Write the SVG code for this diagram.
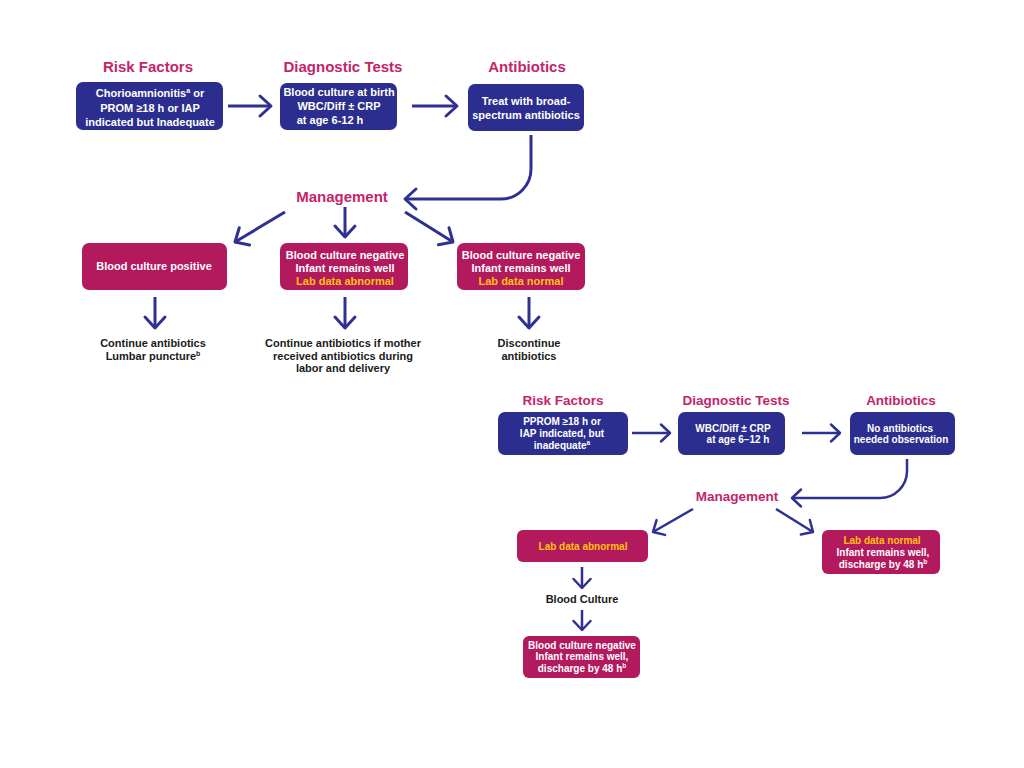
<svg xmlns="http://www.w3.org/2000/svg" width="1024" height="768" viewBox="0 0 1024 768">
<defs>
<style>
.title{font-family:"Liberation Sans",Arial,sans-serif;font-weight:bold;fill:#c4246c;text-anchor:middle}
.t1{font-size:15px}
.t2{font-size:13.5px}
.bt{font-family:"Liberation Sans",Arial,sans-serif;font-weight:bold;fill:#ffffff;text-anchor:middle;font-size:11px}
.bs{font-size:10px}
.yl{fill:#ffc20e}
.pt{font-family:"Liberation Sans",Arial,sans-serif;font-weight:bold;fill:#1a1a1a;text-anchor:middle;font-size:11px}
.blue{fill:#2b2e8e}
.mag{fill:#b3195d}
.cn{fill:none;stroke:#2e3192;stroke-width:3;stroke-linecap:butt}
.cs{fill:none;stroke:#2e3192;stroke-width:2.5}
</style>
<marker id="ah" markerUnits="userSpaceOnUse" markerWidth="30" markerHeight="30" viewBox="-15 -15 30 30" refX="0" refY="0" orient="auto" overflow="visible">
<path d="M-11,-10 L0,0 L-11,10" fill="none" stroke="#2e3192" stroke-width="3" stroke-linecap="round" stroke-linejoin="round"/>
</marker>
<marker id="ahs" markerUnits="userSpaceOnUse" markerWidth="30" markerHeight="30" viewBox="-15 -15 30 30" refX="0" refY="0" orient="auto" overflow="visible">
<path d="M-9,-8.5 L0,0 L-9,8.5" fill="none" stroke="#2e3192" stroke-width="2.5" stroke-linecap="round" stroke-linejoin="round"/>
</marker>
</defs>
<rect width="1024" height="768" fill="#ffffff"/>

<g id="titles">
<text class="title t1" x="148" y="72">Risk Factors</text>
<text class="title t1" x="343" y="72">Diagnostic Tests</text>
<text class="title t1" x="527" y="72">Antibiotics</text>
<text class="title t1" x="342" y="202">Management</text>
<text class="title t2" x="563" y="405">Risk Factors</text>
<text class="title t2" x="736" y="405">Diagnostic Tests</text>
<text class="title t2" x="901" y="405">Antibiotics</text>
<text class="title t2" x="737" y="501">Management</text>
</g>

<g id="connectors">
<line class="cn" x1="228" y1="106" x2="271" y2="106" marker-end="url(#ah)"/>
<line class="cn" x1="412" y1="106" x2="457" y2="106" marker-end="url(#ah)"/>
<path class="cn" d="M531,135 V169 A30,30 0 0 1 501,199 H405" marker-end="url(#ah)"/>
<line class="cn" x1="285" y1="212" x2="235" y2="242" marker-end="url(#ah)"/>
<line class="cn" x1="345" y1="207" x2="345" y2="237" marker-end="url(#ah)"/>
<line class="cn" x1="405" y1="212" x2="453" y2="242" marker-end="url(#ah)"/>
<line class="cn" x1="155" y1="297" x2="155" y2="328" marker-end="url(#ah)"/>
<line class="cn" x1="345" y1="297" x2="345" y2="328" marker-end="url(#ah)"/>
<line class="cn" x1="529" y1="297" x2="529" y2="328" marker-end="url(#ah)"/>
<line class="cs" x1="632" y1="433" x2="670" y2="433" marker-end="url(#ahs)"/>
<line class="cs" x1="802" y1="433" x2="840" y2="433" marker-end="url(#ahs)"/>
<path class="cs" d="M907,459 V471 A27,27 0 0 1 880,498 H792" marker-end="url(#ahs)"/>
<line class="cs" x1="693" y1="509" x2="653" y2="532" marker-end="url(#ahs)"/>
<line class="cs" x1="776" y1="509" x2="813" y2="532" marker-end="url(#ahs)"/>
<line class="cs" x1="582" y1="567" x2="582" y2="588" marker-end="url(#ahs)"/>
<line class="cs" x1="582" y1="610" x2="582" y2="630" marker-end="url(#ahs)"/>
</g>

<g id="rf1">
<rect class="blue" x="76" y="82" width="147" height="48" rx="7"/>
<text class="bt" x="150" y="97">Chorioamnionitis<tspan font-size="7" dy="-4">a</tspan><tspan dy="4"> or</tspan></text>
<text class="bt" x="150" y="112">PROM ≥18 h or IAP</text>
<text class="bt" x="150" y="126">indicated but Inadequate</text>
</g>
<g id="dt1">
<rect class="blue" x="280" y="83" width="117" height="47" rx="7"/>
<text class="bt" x="339" y="96">Blood culture at birth</text>
<text class="bt" x="339" y="110">WBC/Diff ± CRP</text>
<text class="bt" x="330" y="124">at age 6-12 h</text>
</g>
<g id="ab1">
<rect class="blue" x="468" y="84" width="116" height="47" rx="7"/>
<text class="bt" x="526" y="105">Treat with broad-</text>
<text class="bt" x="526" y="119">spectrum antibiotics</text>
</g>

<g id="m1a">
<rect class="mag" x="82" y="243" width="145" height="47" rx="7"/>
<text class="bt" x="154" y="270">Blood culture positive</text>
</g>
<g id="m1b">
<rect class="mag" x="280" y="243" width="128" height="47" rx="7"/>
<text class="bt" x="345" y="259">Blood culture negative</text>
<text class="bt" x="345" y="272">Infant remains well</text>
<text class="bt yl" x="345" y="285">Lab data abnormal</text>
</g>
<g id="m1c">
<rect class="mag" x="457" y="243" width="128" height="47" rx="7"/>
<text class="bt" x="521" y="259">Blood culture negative</text>
<text class="bt" x="521" y="272">Infant remains well</text>
<text class="bt yl" x="521" y="285">Lab data normal</text>
</g>

<g id="o1a">
<text class="pt" x="153" y="347">Continue antibiotics</text>
<text class="pt" x="153" y="360">Lumbar puncture<tspan font-size="7" dy="-4">b</tspan></text>
</g>
<g id="o1b">
<text class="pt" x="343" y="347">Continue antibiotics if mother</text>
<text class="pt" x="343" y="360">received antibiotics during</text>
<text class="pt" x="343" y="372">labor and delivery</text>
</g>
<g id="o1c">
<text class="pt" x="529" y="347">Discontinue</text>
<text class="pt" x="529" y="360">antibiotics</text>
</g>

<g id="rf2">
<rect class="blue" x="498" y="412" width="130" height="43" rx="7"/>
<text class="bt bs" x="562" y="425">PPROM ≥18 h or</text>
<text class="bt bs" x="562" y="437">IAP indicated, but</text>
<text class="bt bs" x="562" y="449">inadequate<tspan font-size="6.5" dy="-4">a</tspan></text>
</g>
<g id="dt2">
<rect class="blue" x="678" y="412" width="107" height="43" rx="7"/>
<text class="bt bs" x="733" y="432">WBC/Diff ± CRP</text>
<text class="bt bs" x="738" y="443">at age 6–12 h</text>
</g>
<g id="ab2">
<rect class="blue" x="850" y="412" width="105" height="43" rx="7"/>
<text class="bt bs" x="900" y="432">No antibiotics</text>
<text class="bt bs" x="901" y="443">needed observation</text>
</g>

<g id="m2a">
<rect class="mag" x="517" y="530" width="131" height="32" rx="6"/>
<text class="bt bs yl" x="583" y="550">Lab data abnormal</text>
</g>
<g id="m2b">
<rect class="mag" x="822" y="530" width="118" height="44" rx="6"/>
<text class="bt bs yl" x="882" y="544">Lab data normal</text>
<text class="bt bs" x="883" y="556">Infant remains well,</text>
<text class="bt bs" x="883" y="568">discharge by 48 h<tspan font-size="6.5" dy="-4">b</tspan></text>
</g>
<g id="bc2">
<text class="pt bs" x="582" y="603">Blood Culture</text>
</g>
<g id="m2c">
<rect class="mag" x="523" y="636" width="117" height="42" rx="6"/>
<text class="bt bs" x="582" y="649">Blood culture negative</text>
<text class="bt bs" x="582" y="660">Infant remains well,</text>
<text class="bt bs" x="582" y="672">discharge by 48 h<tspan font-size="6.5" dy="-4">b</tspan></text>
</g>
</svg>
